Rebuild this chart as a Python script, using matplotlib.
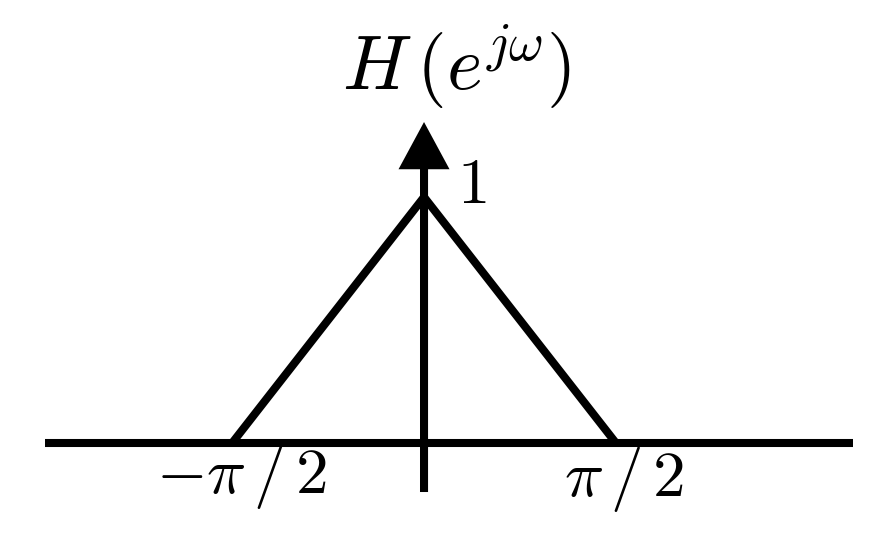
import numpy as np
import matplotlib.pyplot as plt

plt.rcParams['mathtext.fontset'] = 'cm'

# triangle response H(e^{jw})
omega = [-np.pi / 2, 0, np.pi / 2]
H = [0, 1, 0]

x_axis = [-3.10, 3.51]
y_axis = [-0.199, 1.305]

tick_pos = [-np.pi / 2, np.pi / 2]
tick_labels = [r'$-\pi\,/\,2$', r'$\pi\,/\,2$']

lw = 5.8

fig = plt.figure(figsize=(8.83, 5.55), dpi=100)
ax = fig.add_axes([0, 0, 1, 1])
ax.set_xlim(-3.470, 3.756)
ax.set_ylim(-0.455, 1.801)
ax.axis('off')

# horizontal axis
ax.plot(x_axis, [0, 0], color='black', lw=lw, solid_capstyle='butt')
# vertical axis with arrow
ann = ax.annotate('', xy=(0, y_axis[1]), xytext=(0, y_axis[0]),
                  arrowprops=dict(arrowstyle='-|>,head_length=25,head_width=13.5',
                                  mutation_scale=1, color='black', lw=lw,
                                  shrinkA=0, shrinkB=0))
ann.arrow_patch.set_capstyle('butt')
ann.arrow_patch.set_joinstyle('miter')

ax.plot(omega, H, color='black', lw=lw, solid_joinstyle='miter', solid_capstyle='butt')

ax.text(tick_pos[0] + 0.08, -0.135, tick_labels[0], fontsize=47, ha='center', va='center')
ax.text(tick_pos[1] + 0.07, -0.145, tick_labels[1], fontsize=47, ha='center', va='center')
ax.text(0.39, 1.05, r'$1$', fontsize=47, ha='center', va='center')
ax.text(0.27, 1.53, r'$H\,(e^{j\omega})$', fontsize=55, ha='center', va='center')

fig.savefig('out.png', dpi=100)
